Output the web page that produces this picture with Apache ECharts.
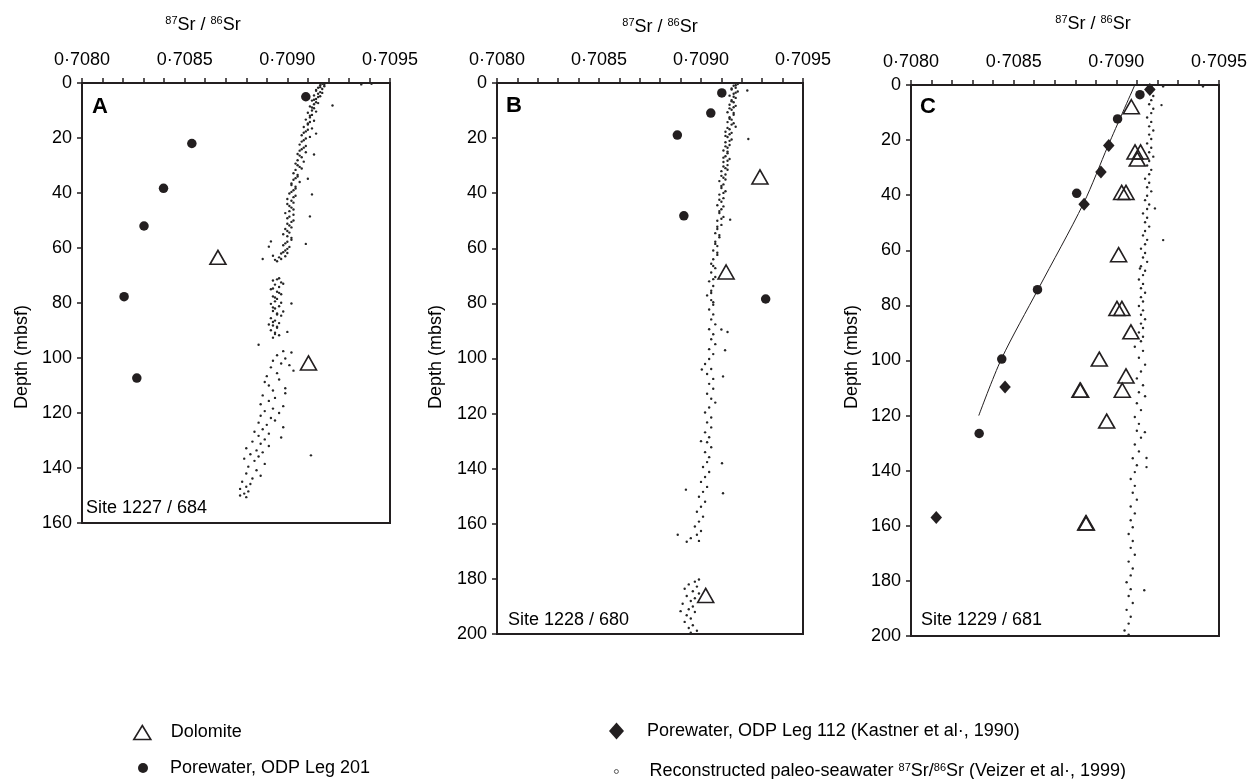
<!DOCTYPE html>
<html>
<head>
<meta charset="utf-8">
<script src="https://cdn.jsdelivr.net/npm/echarts@6/dist/echarts.min.js"></script>
<style>
html,body{margin:0;padding:0;background:#fff;}
#chart{width:1252px;height:779px;}
</style>
</head>
<body>
<div id="chart"></div>
<script>
// ---------- DATA : [87Sr/86Sr, depth (mbsf)] ----------
var xTickValues = [0.7080, 0.7085, 0.7090, 0.7095];
var panelLetters = ['A', 'B', 'C'];
var siteLabels = ['Site 1227 / 684', 'Site 1228 / 680', 'Site 1229 / 681'];
var depthMax = [160, 200, 200];

// Site 1227 / 684
var dolomiteA = [[0.708662, 63.4], [0.709103, 101.8]];
var porewaterA = [[0.70909, 5], [0.708535, 22], [0.708397, 38.3], [0.708302, 52], [0.708205, 77.7], [0.708267, 107.3]];
var seawaterA = [
[0.70917,0.3],[0.70916,0.8],[0.70918,1.2],[0.70915,1.7],[0.70917,2.2],[0.70914,2.8],[0.70916,3.3],[0.70915,3.9],[0.70913,4.5],[0.70915,5.1],
[0.70914,5.8],[0.70912,6.4],[0.70914,7.0],[0.70913,7.7],[0.70911,8.5],[0.70913,9.2],[0.70912,10.0],[0.70910,10.8],[0.70912,11.6],[0.70911,12.5],
[0.70909,13.3],[0.70911,14.2],[0.70910,15.1],[0.70908,16.0],[0.70910,17.0],[0.70908,18.1],[0.70907,19.0],[0.70909,20.2],[0.70907,21.3],[0.70906,22.4],
[0.70908,23.5],[0.70906,24.6],[0.70905,25.8],[0.70907,27.0],[0.70905,28.1],[0.70904,29.3],[0.70906,30.5],[0.70904,31.6],[0.70903,32.8],[0.70905,34.0],
[0.70903,35.2],[0.70902,36.5],[0.70904,37.7],[0.70903,39.0],[0.70901,40.2],[0.70903,41.5],[0.70902,42.8],[0.70900,44.0],[0.70902,45.3],[0.70901,46.6],
[0.70903,47.9],[0.70900,49.2],[0.70902,50.5],[0.70901,51.8],[0.70899,53.1],[0.70901,54.4],[0.70900,55.7],[0.70902,57.0],[0.70899,58.3],[0.70901,59.6],
[0.70899,60.9],[0.70897,62.0],[0.70899,63.0],[0.70897,64.0],[0.70895,64.8],
[0.70918,0.6],[0.70916,1.5],[0.70914,2.5],[0.70917,3.6],[0.70916,4.8],[0.70913,6.1],[0.70915,7.3],[0.70912,8.9],[0.70914,10.4],[0.70911,11.9],
[0.70913,13.7],[0.70910,14.7],[0.70912,16.5],[0.70909,17.6],[0.70911,19.6],[0.70908,20.8],[0.70909,22.9],[0.70907,24.1],[0.70909,25.2],[0.70906,26.4],
[0.70908,28.6],[0.70905,29.9],[0.70907,31.1],[0.70905,33.4],[0.70904,34.6],[0.70906,36.0],[0.70902,37.1],[0.70904,38.4],[0.70902,39.6],[0.70904,41.0],
[0.70900,42.2],[0.70903,43.5],[0.70901,44.7],[0.70903,46.0],[0.70899,47.3],[0.70901,48.6],[0.70903,50.0],[0.70900,51.2],[0.70902,52.5],[0.70900,53.8],
[0.70898,55.0],[0.70902,56.3],[0.70900,57.7],[0.70898,59.0],[0.70900,60.3],[0.70898,61.5],[0.70896,63.4],[0.70900,61.8],[0.70894,64.3],
[0.70914,18.4],[0.70913,26.0],[0.70910,34.8],[0.70912,40.5],[0.70911,48.5],[0.70909,58.5],[0.70892,57.6],[0.70891,59.5],[0.70888,64.0],[0.70893,62.8],
[0.70896,71.0],[0.70893,71.8],[0.70897,72.5],[0.70894,73.3],[0.70896,74.2],[0.70892,75.0],[0.70895,75.9],[0.70897,76.8],[0.70893,77.6],[0.70895,78.5],
[0.70894,79.4],[0.70892,80.3],[0.70896,81.2],[0.70894,82.0],[0.70893,82.9],[0.70895,83.8],[0.70897,84.6],[0.70892,85.5],[0.70894,86.4],[0.70896,87.3],
[0.70893,88.2],[0.70895,89.0],[0.70892,89.9],[0.70894,90.8],[0.70896,91.7],[0.70893,92.6],[0.70902,80.2],[0.70900,90.5],[0.70886,95.2],
[0.70895,71.4],[0.70898,73.0],[0.70893,74.7],[0.70896,76.3],[0.70894,78.0],[0.70897,79.9],[0.70893,81.6],[0.70895,84.2],[0.70893,86.9],[0.70895,88.6],
[0.70894,91.3],[0.70891,87.8],[0.70898,83.1],
[0.70898,97.5],[0.70902,98.0],[0.70895,99.0],[0.70899,100.2],[0.70893,101.0],[0.70897,102.0],[0.70901,102.6],[0.70892,103.4],[0.70903,104.6],[0.70895,105.5],
[0.70890,106.6],[0.70896,107.8],[0.70889,108.7],[0.70891,110.0],[0.70899,111.0],[0.70893,111.8],[0.70899,112.8],[0.70888,113.6],[0.70894,114.5],[0.70891,115.6],
[0.70887,116.8],[0.70898,117.5],[0.70893,118.4],[0.70889,119.3],[0.70896,120.0],[0.70887,121.0],[0.70892,121.8],[0.70894,122.7],[0.70886,123.5],[0.70890,124.3],
[0.70898,125.2],[0.70888,125.9],[0.70884,126.8],[0.70891,127.5],[0.70886,128.3],[0.70897,128.9],[0.70889,129.6],[0.70883,130.4],[0.70887,131.2],[0.70891,132.0],
[0.70880,132.8],[0.70885,133.6],[0.70888,134.3],[0.70882,135.0],[0.70886,135.8],[0.70879,136.6],[0.70884,137.4],[0.70889,138.5],[0.70881,139.5],[0.70885,140.8],
[0.70880,142.0],[0.70887,142.8],[0.70883,143.8],[0.70878,145.0],[0.70882,145.8],[0.70880,146.8],[0.70877,147.6],[0.70881,148.5],[0.70879,149.3],[0.70877,150.0],
[0.70880,150.6],[0.709115,135.4],[0.70922,8.2],[0.70936,0.5],[0.70941,0.3]
];

// Site 1228 / 680
var dolomiteB = [[0.709289, 34.1], [0.709123, 68.6], [0.709023, 186]];
var porewaterB = [[0.709102, 3.6], [0.709048, 10.9], [0.708884, 18.9], [0.708916, 48.2], [0.709317, 78.4]];
var seawaterB = [
[0.70918,0.4],[0.70916,1.0],[0.70917,1.7],[0.70915,2.4],[0.70918,3.1],[0.70916,3.9],[0.70914,4.6],[0.70917,5.4],[0.70915,6.2],[0.70916,7.0],
[0.70914,7.9],[0.70916,8.8],[0.70915,9.7],[0.70913,10.6],[0.70916,11.5],[0.70914,12.4],[0.70915,13.3],[0.70913,14.2],[0.70915,15.1],[0.70917,15.9],
[0.70914,16.8],[0.70912,17.7],[0.70914,18.6],[0.70913,19.6],[0.70915,20.5],[0.70912,21.5],[0.70914,22.5],[0.70913,23.5],[0.70911,24.5],[0.70913,25.5],
[0.70912,26.6],[0.70914,27.6],[0.70911,28.7],[0.70913,29.8],[0.70912,30.9],[0.70910,32.0],[0.70912,33.2],[0.70911,34.4],[0.70909,35.6],[0.70911,36.8],
[0.70910,38.1],[0.70912,39.3],[0.70909,40.5],[0.70911,41.8],[0.70910,43.1],[0.70908,44.4],[0.70910,45.8],[0.70909,47.2],[0.70911,48.6],[0.70908,50.0],
[0.70910,51.5],[0.70908,53.0],[0.70907,54.5],[0.70909,56.0],[0.70907,57.6],[0.70908,59.2],[0.70906,60.8],[0.70908,62.4],[0.70906,64.0],[0.70905,65.6],
[0.70907,67.2],[0.70905,68.8],[0.70907,70.4],[0.70904,72.0],[0.70906,73.7],[0.70905,75.4],[0.70903,77.1],[0.70905,78.8],[0.70906,80.5],[0.70904,82.2],
[0.70917,0.8],[0.70915,2.0],[0.70917,3.5],[0.70916,5.0],[0.70915,6.6],[0.70917,8.3],[0.70914,9.2],[0.70916,10.9],[0.70914,13.0],[0.70916,14.6],
[0.70913,16.3],[0.70915,18.1],[0.70912,19.2],[0.70914,21.0],[0.70912,23.0],[0.70913,24.9],[0.70911,27.1],[0.70913,28.2],[0.70911,30.3],[0.70913,31.5],
[0.70910,33.7],[0.70912,35.0],[0.70910,37.4],[0.70911,39.9],[0.70909,42.4],[0.70911,44.8],[0.70909,46.5],[0.70910,49.3],[0.70908,52.2],[0.70909,55.2],
[0.70907,58.4],[0.70908,61.6],[0.70906,66.4],[0.70906,71.2],[0.70905,76.2],[0.70906,79.6],
[0.70906,84.0],[0.70905,85.8],[0.70907,87.6],[0.70904,89.4],[0.70906,91.2],[0.70905,93.0],[0.70907,94.8],[0.70904,96.6],[0.70906,98.4],[0.70904,100.2],
[0.70902,102.0],[0.70905,103.8],[0.70903,105.6],[0.70906,107.4],[0.70904,109.2],[0.70906,111.0],[0.70903,112.8],[0.70905,114.6],[0.70907,116.0],[0.70904,117.8],
[0.70902,119.6],[0.70905,121.4],[0.70903,123.2],[0.70905,125.0],[0.70902,126.8],[0.70904,128.6],[0.70903,130.4],[0.70905,132.2],[0.70902,134.0],[0.70904,135.8],
[0.70903,137.6],[0.70901,139.4],[0.70904,141.2],[0.70902,143.0],[0.70900,144.8],[0.70903,146.6],[0.70901,148.4],[0.70899,150.2],[0.70902,152.0],[0.70900,153.8],
[0.70898,155.6],[0.70901,157.4],[0.70899,159.2],[0.70897,161.0],[0.70900,162.6],[0.70898,164.0],[0.70895,165.2],[0.70899,166.2],[0.70893,166.5],
[0.709227,2.7],[0.709232,20.3],[0.709143,49.6],[0.70910,89.5],[0.70913,90.4],[0.709118,97],[0.709108,106.5],[0.709103,138],[0.709108,148.9],
[0.708926,147.6],[0.708886,164],[0.709004,104],[0.70900,130],
[0.70899,180.2],[0.70897,181.0],[0.70894,182.0],[0.70898,182.8],[0.70892,183.6],[0.70896,184.5],[0.70899,185.3],[0.70893,186.2],[0.70897,187.0],[0.70895,188.0],
[0.70891,189.0],[0.70896,190.0],[0.70894,191.0],[0.70897,192.0],[0.70893,193.2],[0.70895,194.4],[0.70892,195.6],[0.70896,196.8],[0.70894,197.8],[0.70898,198.8],
[0.70895,199.5],[0.70890,191.7]
];

// Site 1229 / 681
var dolomiteC = [[0.709073, 7.9], [0.709091, 24.3], [0.709118, 24.3], [0.709102, 26.9], [0.709026, 39], [0.709047, 39],
  [0.709011, 61.6], [0.709003, 81.1], [0.709027, 81.1], [0.709071, 89.6], [0.708917, 99.5], [0.709047, 105.6],
  [0.708823, 110.8], [0.708826, 110.8], [0.709029, 110.8], [0.708953, 122], [0.708851, 159], [0.708854, 159]];
var porewaterC = [[0.709115, 3.5], [0.709006, 12.3], [0.708807, 39.3], [0.708616, 74.3], [0.708442, 99.5], [0.708332, 126.5]];
var leg112C = [[0.709163, 1.6], [0.708963, 22], [0.708925, 31.6], [0.708843, 43.3], [0.708458, 109.6], [0.708123, 157]];
var fitLineC = [[0.70909, 0], [0.70896, 22], [0.70884, 43], [0.70862, 74], [0.70844, 99.5], [0.70833, 120]];
var seawaterC = [
[0.70917,0.5],[0.70918,1.5],[0.70916,2.8],[0.70918,4.0],[0.70917,5.5],[0.70916,7.0],[0.70918,8.6],[0.70917,10.2],[0.70915,11.8],[0.70917,13.4],
[0.70916,15.0],[0.70918,16.5],[0.70916,18.0],[0.70917,19.6],[0.70915,21.2],[0.70917,22.8],[0.70916,24.4],[0.70918,26.0],[0.70916,27.6],[0.70915,29.2],
[0.70917,30.8],[0.70916,32.4],[0.70914,34.0],[0.70916,35.5],[0.70915,37.1],[0.70917,38.6],[0.70915,40.2],[0.70914,41.8],[0.70916,43.4],[0.70915,45.0],
[0.70913,46.6],[0.70915,48.2],[0.70914,49.8],[0.70916,51.4],[0.70914,53.0],[0.70913,54.6],[0.70915,56.2],[0.70914,57.8],[0.70912,59.4],[0.70914,61.0],
[0.70913,62.6],[0.70915,64.2],[0.70912,65.8],[0.70914,67.4],[0.70913,69.0],[0.70911,70.6],[0.70913,72.2],[0.70912,73.8],[0.70914,75.4],[0.70912,77.0],
[0.70913,78.6],[0.70911,80.2],[0.70913,81.8],[0.70912,83.4],[0.70914,85.0],[0.70912,86.6],[0.70913,88.2],[0.70911,89.8],[0.70913,91.4],[0.70912,93.0],
[0.70913,96.5],[0.70911,99.0],[0.70914,101.5],[0.70912,104.0],[0.70910,106.5],[0.70913,109.0],[0.70911,111.5],[0.70914,113.0],[0.70910,115.5],[0.70912,118.0],
[0.70909,120.5],[0.70911,123.0],[0.70910,125.5],[0.70912,128.0],[0.70909,130.5],[0.70911,133.0],[0.70908,135.5],[0.70910,138.0],[0.70909,140.5],[0.70907,143.0],
[0.70909,145.5],[0.70908,148.0],[0.70910,150.5],[0.70907,153.0],[0.70909,155.5],[0.70907,158.0],[0.70908,160.5],[0.70906,163.0],[0.70908,165.5],[0.70907,168.0],
[0.70909,170.5],[0.70906,173.0],[0.70908,175.5],[0.70907,178.0],[0.70905,180.5],[0.70907,183.0],[0.70906,185.5],[0.70908,188.0],[0.70905,190.5],[0.70907,193.0],
[0.70906,195.5],[0.70904,198.0],[0.70906,199.5],
[0.709228,0.5],[0.709422,0.5],[0.70922,7.3],[0.709228,56.3],[0.709188,44.8],[0.709115,66.6],[0.70909,95],[0.709139,126],[0.709147,135.4],[0.709147,138.7],[0.709136,183.4]
];

// ---------- CHART ----------
var FONT = '"Liberation Sans", Arial, Helvetica, sans-serif';
var INK = '#231f20';
var NAME_DOL = 'Dolomite';
var NAME_201 = 'Porewater, ODP Leg 201';
var NAME_112 = 'Porewater, ODP Leg 112 (Kastner et al\u00b7, 1990)';
var NAME_SW = 'Reconstructed paleo-seawater 87Sr/86Sr (Veizer et al\u00b7, 1999)';

var grids = [
  {left: 82, top: 83, width: 308, height: 440},
  {left: 497, top: 83, width: 306, height: 551},
  {left: 911, top: 85, width: 308, height: 551}
];

function fmtX(v) { return v.toFixed(4).replace('.', '\u00b7'); }

var xAxes = [], yAxes = [];
for (var i = 0; i < 3; i++) {
  grids[i].show = true;
  grids[i].borderColor = INK;
  grids[i].borderWidth = 2;
  grids[i].backgroundColor = 'transparent';
  xAxes.push({
    gridIndex: i, type: 'value', position: 'top',
    min: xTickValues[0], max: xTickValues[xTickValues.length - 1], interval: 0.0005,
    axisLine: {show: true, onZero: false, lineStyle: {color: INK, width: 2}},
    axisTick: {show: true, inside: false, length: 5, lineStyle: {color: INK, width: 1.5}},
    minorTick: {show: true, splitNumber: 5, length: 5, lineStyle: {color: INK, width: 1.5}},
    axisLabel: {show: true, fontSize: 18, fontFamily: FONT, color: '#000', margin: 14, formatter: fmtX,
      showMinLabel: true, showMaxLabel: true, hideOverlap: false},
    splitLine: {show: false}, minorSplitLine: {show: false}
  });
  yAxes.push({
    gridIndex: i, type: 'value', inverse: true, min: 0, max: depthMax[i], interval: 20,
    axisLine: {show: true, onZero: false, lineStyle: {color: INK, width: 2}},
    axisTick: {show: true, inside: false, length: 5, lineStyle: {color: INK, width: 1.5}},
    axisLabel: {show: true, fontSize: 18, fontFamily: FONT, color: '#000', margin: 10,
      showMinLabel: true, showMaxLabel: true, hideOverlap: false},
    splitLine: {show: false}
  });
}

function seaSeries(i, data) {
  return {name: NAME_SW, type: 'scatter', xAxisIndex: i, yAxisIndex: i, data: data,
    symbol: 'circle', symbolSize: 2.4, itemStyle: {color: '#262626', opacity: 1}, z: 2, silent: true};
}
function dolSeries(i, data) {
  return {name: NAME_DOL, type: 'scatter', xAxisIndex: i, yAxisIndex: i, data: data,
    symbol: 'triangle', symbolSize: [16, 14],
    itemStyle: {color: 'transparent', borderColor: INK, borderWidth: 1.6, opacity: 1}, z: 4, silent: true};
}
function pwSeries(i, data) {
  return {name: NAME_201, type: 'scatter', xAxisIndex: i, yAxisIndex: i, data: data,
    symbol: 'circle', symbolSize: 9.5, itemStyle: {color: INK, opacity: 1}, z: 5, silent: true};
}

var series = [
  seaSeries(0, seawaterA), dolSeries(0, dolomiteA), pwSeries(0, porewaterA),
  seaSeries(1, seawaterB), dolSeries(1, dolomiteB), pwSeries(1, porewaterB),
  seaSeries(2, seawaterC),
  {type: 'line', xAxisIndex: 2, yAxisIndex: 2, data: fitLineC, smooth: 0.3, showSymbol: false, symbol: 'none',
    lineStyle: {color: INK, width: 1}, z: 3, silent: true},
  dolSeries(2, dolomiteC), pwSeries(2, porewaterC),
  {name: NAME_112, type: 'scatter', xAxisIndex: 2, yAxisIndex: 2, data: leg112C,
    symbol: 'diamond', symbolSize: [11.5, 13], itemStyle: {color: INK, opacity: 1}, z: 5, silent: true}
];

var supRich = {
  n: {fontSize: 18, fontFamily: FONT, color: '#000'},
  s: {fontSize: 11, fontFamily: FONT, color: '#000', padding: [0, 0, 8, 0]}
};

function legendBox(name, left, top, w, h, icon, itemStyle, gap) {
  return {
    data: [{name: name, icon: icon, itemStyle: itemStyle}],
    left: left, top: top, itemWidth: w, itemHeight: h, padding: 0, selectedMode: false,
    orient: 'horizontal',
    formatter: function (n) {
      if (n === NAME_SW) {
        return '{n|Reconstructed paleo-seawater }{s|87}{n|Sr/}{s|86}{n|Sr (Veizer et al\u00b7, 1999)}';
      }
      return '{n|' + n + '}';
    },
    textStyle: {fontSize: 18, fontFamily: FONT, color: '#000', padding: [0, 0, 0, gap], rich: supRich}
  };
}

var legends = [
  legendBox(NAME_DOL, 133, 723.5, 17, 14, 'triangle', {color: 'transparent', borderColor: INK, borderWidth: 1.6}, 15),
  legendBox(NAME_201, 138, 759, 10, 10, 'circle', {color: INK}, 17),
  legendBox(NAME_112, 609, 722, 15, 17, 'diamond', {color: INK}, 18),
  legendBox(NAME_SW, 614, 762, 4, 4, 'circle', {color: '#fff', borderColor: '#333', borderWidth: 0.8}, 26)
];

var titleCenters = [[203, 25], [660, 27], [1093, 24]];
var depthCenters = [[22, 357], [436, 357], [852, 357]];
var letterPos = [[92, 96], [506, 95], [920, 96]];
var sitePos = [[86, 508], [508, 620], [921, 620]];

var graphics = [];
for (var k = 0; k < 3; k++) {
  graphics.push({
    type: 'text', x: titleCenters[k][0], y: titleCenters[k][1], silent: true,
    style: {text: '{s|87}{n|Sr / }{s|86}{n|Sr}', rich: supRich, align: 'center', verticalAlign: 'middle',
      font: '18px ' + FONT, fill: '#000'}
  });
  graphics.push({
    type: 'text', x: depthCenters[k][0], y: depthCenters[k][1], rotation: Math.PI / 2, silent: true,
    style: {text: 'Depth (mbsf)', align: 'center', verticalAlign: 'middle', font: '18px ' + FONT, fill: '#000'}
  });
  graphics.push({
    type: 'text', x: letterPos[k][0], y: letterPos[k][1], silent: true,
    style: {text: panelLetters[k], align: 'left', verticalAlign: 'top', font: 'bold 22px ' + FONT, fill: '#000'}
  });
  graphics.push({
    type: 'text', x: sitePos[k][0], y: sitePos[k][1], silent: true,
    style: {text: siteLabels[k], align: 'left', verticalAlign: 'middle', font: '18px ' + FONT, fill: '#000'}
  });
}

var chart = echarts.init(document.getElementById('chart'), null, {renderer: 'canvas'});
chart.setOption({
  animation: false,
  backgroundColor: '#fff',
  textStyle: {fontFamily: FONT},
  grid: grids,
  xAxis: xAxes,
  yAxis: yAxes,
  legend: legends,
  tooltip: {show: false},
  series: series,
  graphic: graphics
});
</script>
</body>
</html>
